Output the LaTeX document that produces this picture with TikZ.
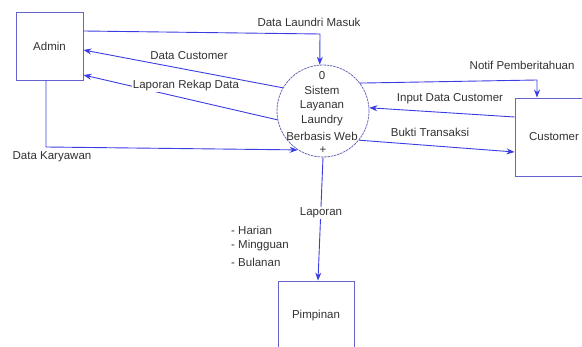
\documentclass[tikz,border=0pt]{standalone}
\usepackage{fontspec}
\setmainfont{Liberation Sans}
\usetikzlibrary{arrows.meta}
\definecolor{flowc}{RGB}{60,60,228}
\definecolor{boxc}{RGB}{100,100,205}
\definecolor{circc}{RGB}{105,105,185}
\definecolor{txtc}{RGB}{50,50,50}
\begin{document}
\begin{tikzpicture}[x=1pt,y=-1pt,
  every node/.style={font=\fontsize{11.5}{13}\selectfont, text=txtc},
  ent/.style={draw=boxc, line width=0.9pt, fill=white, inner sep=0pt},
  proc/.style={circle, draw=circc, line width=0.8pt, dash pattern=on 2.5pt off 0.8pt, inner sep=0pt, minimum size=92pt},
  flow/.style={draw=flowc, line width=0.9pt},
  arr/.style={flow, -{Stealth[length=8pt,width=6pt]}},
  lbl/.style={fill=white, inner sep=0.5pt},
  ptxt/.style={inner sep=0pt},
]
\useasboundingbox (0,0) rectangle (582,347);
\begin{scope}
\clip (0,0) rectangle (582,347);
\node[ent, minimum width=67pt, minimum height=68pt] (admin) at (49.5,46) {Admin};
\node[ent, minimum width=78pt, minimum height=78pt] (cust) at (554,137) {Customer};
\node[ent, minimum width=76pt, minimum height=70pt] (pimp) at (316,316) {Pimpinan};
\node[proc] (sys) at (323,111) {};
\end{scope}
\node[ptxt] (t0) at (322,76) {0};
\node[ptxt] (t1) at (322,90) {Sistem};
\node[ptxt] (t2) at (322,106) {Layanan};
\node[ptxt] (t3) at (322,121) {Laundry};
\node[ptxt] (t4) at (322,136) {Berbasis Web};
\node[ptxt] (t5) at (323,150) {+};

\coordinate (c1) at (320,34);
\coordinate (c2) at (46,147);
\coordinate (c3) at (537,80);

% flows
\draw[arr] ([yshift=15pt]admin.east) -- (c1) -- (sys.94);
\draw[arr] (sys.150) -- ([yshift=-4pt]admin.east);
\draw[arr] (sys.191) -- ([yshift=-29pt]admin.east);
\draw[arr] ([xshift=-3.5pt]admin.south) -- (c2) -- (sys.237);
\draw[arr] (sys.37) -- (c3) -- (cust.north -| c3);
\draw[arr] ([yshift=20pt]cust.west) -- (sys.4);
\draw[arr] (sys.-39) -- ([yshift=-15pt]cust.west);
\draw[arr] (sys.south) -- ([xshift=2pt]pimp.north);

% labels
\node[lbl] (l1) at (309,22) {Data Laundri Masuk};
\node[lbl] (l2) at (189,56) {Data Customer};
\node[lbl] (l3) at (186,86) {Laporan Rekap Data};
\node[lbl] (l4) at (52,157) {Data Karyawan};
\node[lbl, anchor=west] (l5) at (469,65) {Notif Pemberitahuan};
\node[lbl] (l6) at (450,99) {Input Data Customer};
\node[lbl] (l7) at (430,132) {Bukti Transaksi};
\node[lbl] (l8) at (321,213) {Laporan};
\node[ptxt, anchor=west] (h1) at (231,230) {- Harian};
\node[ptxt, anchor=west] (h2) at (231,246) {- Mingguan};
\node[ptxt, anchor=west] (h3) at (231,262) {- Bulanan};
\end{tikzpicture}
\end{document}
